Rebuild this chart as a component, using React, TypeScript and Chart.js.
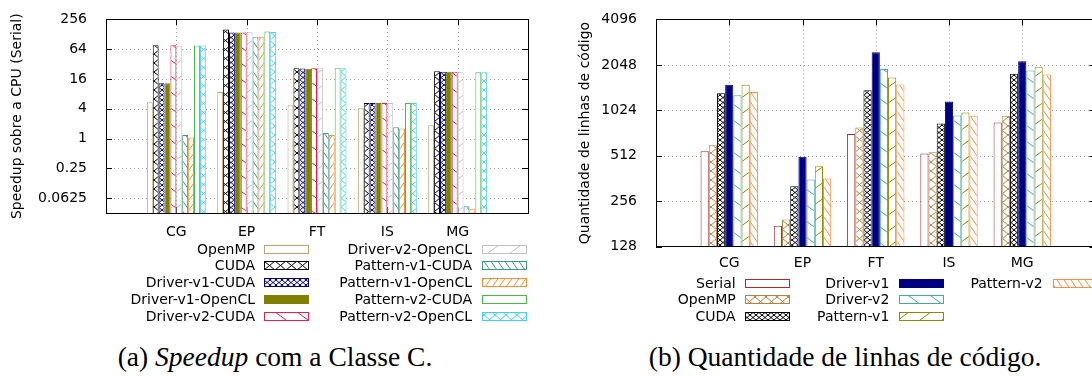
import React, { useEffect, useRef } from 'react';
import { Chart, registerables } from 'chart.js';

Chart.register(...registerables);

// ---------------- DATA ----------------
const categories = ['CG', 'EP', 'FT', 'IS', 'MG'];

// (a) Speedup com a Classe C (log2 scale)
const speedupSeriesNames = [
  'OpenMP', 'CUDA', 'Driver-v1-CUDA', 'Driver-v1-OpenCL', 'Driver-v2-CUDA',
  'Driver-v2-OpenCL', 'Pattern-v1-CUDA', 'Pattern-v1-OpenCL', 'Pattern-v2-CUDA', 'Pattern-v2-OpenCL',
];
const speedupOpenMP = [5.4, 8.7, 4.7, 4.1, 1.85];
const speedupCUDA = [77, 160, 26.4, 5.2, 23];
const speedupDriverV1CUDA = [13.1, 139, 26, 5.2, 22.3];
const speedupDriverV1OpenCL = [13.1, 139, 25.6, 5.2, 22.3];
const speedupDriverV2CUDA = [77, 139, 26.4, 5.2, 22.3];
const speedupDriverV2OpenCL = [76, 141, 26.4, 5.2, 22];
const speedupPatternV1CUDA = [1.18, 111, 1.3, 1.7, 0.043];
const speedupPatternV1OpenCL = [1.05, 114, 1.18, 1.6, 0.038];
const speedupPatternV2CUDA = [76, 146, 26.4, 5.2, 22];
const speedupPatternV2OpenCL = [76, 143, 26.4, 5.2, 22];
const speedupTicks = [0.0625, 0.25, 1, 4, 16, 64, 256];
const speedupTickLabels = ['0.0625', '0.25', '1', '4', '16', '64', '256'];
const speedupMin = 0.03125;
const speedupMax = 256;

// (b) Quantidade de linhas de código (log2 scale)
const locSeriesNames = ['Serial', 'OpenMP', 'CUDA', 'Driver-v1', 'Driver-v2', 'Pattern-v1', 'Pattern-v2'];
const locSerial = [549, 176, 715, 530, 850];
const locOpenMP = [602, 194, 788, 541, 942];
const locCUDA = [1326, 322, 1390, 837, 1785];
const locDriverV1 = [1510, 505, 2485, 1170, 2167];
const locDriverV2 = [1290, 357, 1923, 948, 1876];
const locPatternV1 = [1510, 437, 1689, 990, 1977];
const locPatternV2 = [1352, 362, 1520, 942, 1770];
const locTicks = [128, 256, 512, 1024, 2048, 4096];
const locTickLabels = ['128', '256', '512', '1024', '2048', '4096'];
const locMin = 128;
const locMax = 4096;

// ---------------- STYLE ----------------
const FONT = '"DejaVu Sans", sans-serif';

const speedupColors = ['#c4a070', '#000000', '#000080', '#808000', '#e8204c', '#c0c0c0', '#3a9a8a', '#ff8c30', '#44bb44', '#40d0f0'];
const speedupPatterns = ['empty', 'cross', 'fine', 'solid', 'back', 'fwd', 'backDense', 'fwdDense', 'empty', 'cross'];
const locColors = ['#b02a2a', '#b5823f', '#000000', '#000080', '#40a8a8', '#8c8c00', '#ff8c40'];
const locPatterns = ['empty', 'cross', 'fine', 'solid', 'back', 'fwd', 'backDense'];

const PATTERN_DIMS: Record<string, [number, number]> = {
  empty: [4, 4],
  cross: [11, 9],
  fine: [6, 5],
  back: [22, 16],
  fwd: [22, 16],
  backDense: [7, 10],
  fwdDense: [7, 10],
};

function makeFill(kind: string, color: string): any {
  if (kind === 'solid') return color;
  const [w, h] = PATTERN_DIMS[kind];
  const c = document.createElement('canvas');
  c.width = w;
  c.height = h;
  const g = c.getContext('2d')!;
  g.fillStyle = '#ffffff';
  g.fillRect(0, 0, w, h);
  g.strokeStyle = color;
  g.lineWidth = 1;
  const back = kind === 'cross' || kind === 'fine' || kind === 'back' || kind === 'backDense';
  const fwd = kind === 'cross' || kind === 'fine' || kind === 'fwd' || kind === 'fwdDense';
  g.beginPath();
  for (const dx of [-w, 0, w]) {
    for (const dy of [-h, 0, h]) {
      if (back) {
        g.moveTo(dx, dy);
        g.lineTo(dx + w, dy + h);
      }
      if (fwd) {
        g.moveTo(dx, dy + h);
        g.lineTo(dx + w, dy);
      }
    }
  }
  if (kind !== 'empty') g.stroke();
  return g.createPattern(c, 'repeat');
}

type Panel = {
  width: number;
  height: number;
  area: { left: number; right: number; top: number; bottom: number };
  yMin: number;
  yMax: number;
  ticks: number[];
  tickLabels: string[];
  names: string[];
  values: number[][];
  colors: string[];
  patterns: string[];
  catPct: number;
  xPad: number;
  yPad: number;
  yTitle: string;
  yTitleX: number;
  legendCols: { textRight: number; swLeft: number }[];
  legendRow0: number;
  legendStep: number;
  rowsPerCol: number;
};

function framePlugin(p: Panel, fills: any[]) {
  return {
    id: 'frame',
    beforeDatasetsDraw(chart: any) {
      const { ctx, chartArea: a } = chart;
      const xs = chart.scales.x;
      const ys = chart.scales.y;
      ctx.save();
      ctx.strokeStyle = '#a0a0a0';
      ctx.lineWidth = 1;
      ctx.setLineDash([1, 3]);
      ctx.beginPath();
      p.ticks.forEach((v) => {
        const y = Math.round(ys.getPixelForValue(v)) + 0.5;
        if (y <= a.top + 1 || y >= a.bottom - 1) return;
        ctx.moveTo(a.left, y);
        ctx.lineTo(a.right, y);
      });
      categories.forEach((_, i) => {
        const x = Math.round(xs.getPixelForValue(i + 1)) + 0.5;
        ctx.moveTo(x, a.bottom);
        ctx.lineTo(x, a.top);
      });
      ctx.stroke();
      ctx.setLineDash([]);
      ctx.strokeStyle = '#000000';
      ctx.beginPath();
      p.ticks.forEach((v) => {
        const y = Math.round(ys.getPixelForValue(v)) + 0.5;
        ctx.moveTo(a.left, y);
        ctx.lineTo(a.left + 6, y);
        ctx.moveTo(a.right, y);
        ctx.lineTo(a.right - 6, y);
      });
      categories.forEach((_, i) => {
        const x = Math.round(xs.getPixelForValue(i + 1)) + 0.5;
        ctx.moveTo(x, a.top);
        ctx.lineTo(x, a.top + 6);
        ctx.moveTo(x, a.bottom);
        ctx.lineTo(x, a.bottom - 6);
      });
      ctx.stroke();
      ctx.restore();
    },
    afterDatasetsDraw(chart: any) {
      const { ctx, chartArea: a } = chart;
      ctx.save();
      ctx.strokeStyle = '#000000';
      ctx.lineWidth = 1;
      ctx.strokeRect(Math.round(a.left) + 0.5, Math.round(a.top) + 0.5, Math.round(a.right - a.left), Math.round(a.bottom - a.top));
      ctx.restore();
    },
    afterDraw(chart: any) {
      const { ctx, chartArea: a } = chart;
      ctx.save();
      ctx.fillStyle = '#000000';
      ctx.font = `14px ${FONT}`;
      // y axis title
      ctx.save();
      ctx.translate(p.yTitleX, (a.top + a.bottom) / 2);
      ctx.rotate(-Math.PI / 2);
      ctx.textAlign = 'center';
      ctx.textBaseline = 'middle';
      ctx.fillText(p.yTitle, 0, 0);
      ctx.restore();
      // legend
      ctx.textAlign = 'right';
      ctx.textBaseline = 'middle';
      p.names.forEach((name, k) => {
        const col = p.legendCols[Math.floor(k / p.rowsPerCol)];
        const row = k % p.rowsPerCol;
        const y = Math.round(p.legendRow0 + row * p.legendStep);
        ctx.fillStyle = '#000000';
        ctx.fillText(name, col.textRight, y + 1);
        ctx.fillStyle = fills[k];
        ctx.fillRect(col.swLeft, y - 4, 44, 8);
        ctx.strokeStyle = p.colors[k];
        ctx.lineWidth = 1;
        ctx.strokeRect(col.swLeft + 0.5, y - 4 + 0.5, 44, 8);
      });
      ctx.restore();
    },
  };
}

function ChartPanel({ p, style }: { p: Panel; style: React.CSSProperties }) {
  const ref = useRef<HTMLCanvasElement | null>(null);
  useEffect(() => {
    const canvas = ref.current!;
    const fills = p.names.map((_, k) => makeFill(p.patterns[k], p.colors[k]));
    const chart = new Chart(canvas, {
      type: 'bar',
      data: {
        labels: ['', ...categories, ''],
        datasets: p.names.map((name, k) => ({
          label: name,
          data: [null, ...p.values[k], null],
          backgroundColor: fills[k],
          borderColor: p.colors[k],
          borderWidth: 1,
          categoryPercentage: p.catPct,
          barPercentage: 1,
        })),
      },
      options: {
        responsive: false,
        animation: false,
        devicePixelRatio: 1,
        events: [],
        layout: { padding: { left: 0, top: p.area.top, right: p.width - p.area.right, bottom: 0 } },
        plugins: { legend: { display: false }, tooltip: { enabled: false } },
        scales: {
          x: {
            type: 'category',
            offset: false,
            grid: { display: false },
            border: { display: false },
            ticks: { autoSkip: false, maxRotation: 0, padding: p.xPad, color: '#000', font: { family: FONT, size: 14 } },
            afterFit: (s: any) => { s.height = p.height - p.area.bottom; },
          },
          y: {
            type: 'logarithmic',
            min: p.yMin,
            max: p.yMax,
            grid: { display: false },
            border: { display: false },
            ticks: {
              autoSkip: false,
              padding: p.yPad,
              color: '#000',
              font: { family: FONT, size: 14 },
              callback: (v: any) => {
                const i = p.ticks.indexOf(Number(v));
                return i >= 0 ? p.tickLabels[i] : '';
              },
            },
            afterBuildTicks: (s: any) => { s.ticks = p.ticks.map((v) => ({ value: v })); },
            afterFit: (s: any) => { s.width = p.area.left; },
          },
        },
      } as any,
      plugins: [framePlugin(p, fills)],
    } as any);
    return () => chart.destroy();
  }, [p]);
  return <canvas ref={ref} width={p.width} height={p.height} style={{ position: 'absolute', width: p.width, height: p.height, ...style }} />;
}

const speedupPanel: Panel = {
  width: 546,
  height: 336,
  area: { left: 106, right: 528, top: 15, bottom: 213 },
  yMin: speedupMin,
  yMax: speedupMax,
  ticks: speedupTicks,
  tickLabels: speedupTickLabels,
  names: speedupSeriesNames,
  values: [
    speedupOpenMP, speedupCUDA, speedupDriverV1CUDA, speedupDriverV1OpenCL, speedupDriverV2CUDA,
    speedupDriverV2OpenCL, speedupPatternV1CUDA, speedupPatternV1OpenCL, speedupPatternV2CUDA, speedupPatternV2OpenCL,
  ],
  colors: speedupColors,
  patterns: speedupPatterns,
  catPct: 0.838,
  xPad: 3,
  yPad: 11,
  yTitle: 'Speedup sobre a CPU (Serial)',
  yTitleX: 17.5,
  legendCols: [
    { textRight: 255, swLeft: 264 },
    { textRight: 472, swLeft: 482 },
  ],
  legendRow0: 248.5,
  legendStep: 16.8,
  rowsPerCol: 5,
};

const locPanel: Panel = {
  width: 554,
  height: 336,
  area: { left: 110, right: 549.5, top: 15, bottom: 246.7 },
  yMin: locMin,
  yMax: locMax,
  ticks: locTicks,
  tickLabels: locTickLabels,
  names: locSeriesNames,
  values: [locSerial, locOpenMP, locCUDA, locDriverV1, locDriverV2, locPatternV1, locPatternV2],
  colors: locColors,
  patterns: locPatterns,
  catPct: 0.783,
  xPad: 0,
  yPad: 11,
  yTitle: 'Quantidade de linhas de código',
  yTitleX: 39,
  legendCols: [
    { textRight: 189.7, swLeft: 199 },
    { textRight: 343.3, swLeft: 353 },
    { textRight: 496.7, swLeft: 507 },
  ],
  legendRow0: 282.7,
  legendStep: 16.5,
  rowsPerCol: 3,
};

const captionStyle: React.CSSProperties = {
  position: 'absolute',
  top: 341,
  fontFamily: '"Liberation Serif", "Times New Roman", serif',
  fontSize: 27.5,
  lineHeight: '32px',
  textAlign: 'center',
  color: '#000',
  whiteSpace: 'nowrap',
};

export default function App() {
  return (
    <div style={{ position: 'fixed', left: 0, top: 0, width: 1092, height: 376, overflow: 'hidden', background: '#fff' }}>
      <ChartPanel p={speedupPanel} style={{ left: 0, top: 0 }} />
      <ChartPanel p={locPanel} style={{ left: 546, top: 0 }} />
      <div style={{ ...captionStyle, left: 0, width: 550 }}>
        (a) <i>Speedup</i> com a Classe C.
      </div>
      <div style={{ ...captionStyle, left: 600, width: 490 }}>(b) Quantidade de linhas de código.</div>
    </div>
  );
}
